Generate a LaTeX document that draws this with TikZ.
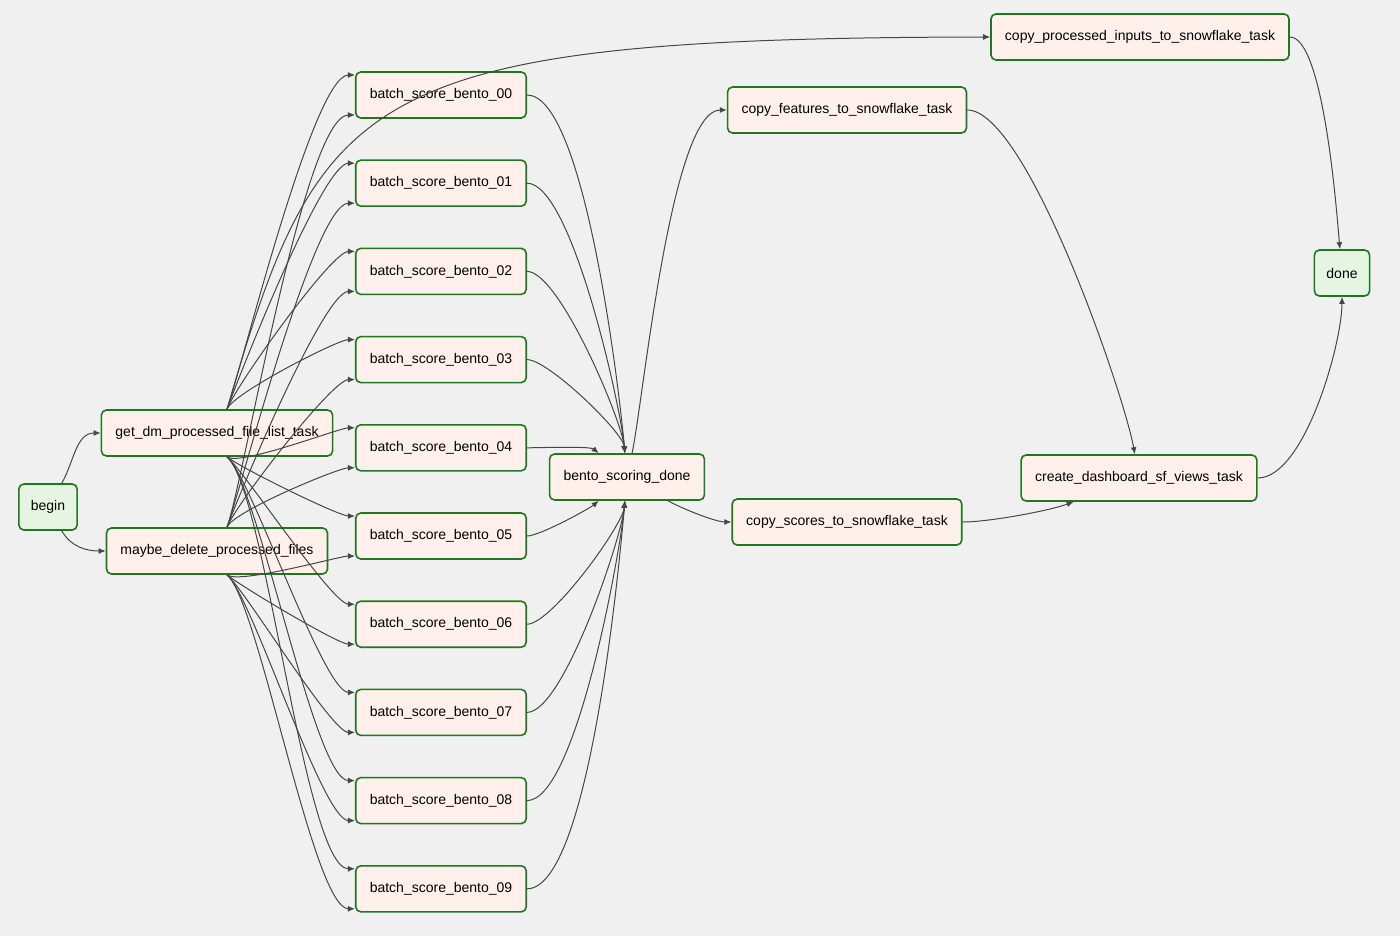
\documentclass[tikz,border=0pt]{standalone}
\usepackage{fontspec}
\setmainfont{Liberation Sans}
\usetikzlibrary{positioning,arrows.meta,calc}
\definecolor{dagBg}{RGB}{240,240,240}
\definecolor{dagLine}{RGB}{30,120,30}
\definecolor{taskFill}{RGB}{255,240,235}
\definecolor{endFill}{RGB}{230,245,225}
\definecolor{edgeGray}{RGB}{70,70,70}

\tikzset{
  task/.style={draw=dagLine, line width=1.6pt, fill=taskFill, rounded corners=5pt,
    minimum height=46pt, inner xsep=14pt, font=\fontsize{14}{16}\selectfont},
  terminal/.style={task, fill=endFill, inner xsep=12pt},
  edge/.style={draw=edgeGray, line width=1pt, -{Latex[length=7pt,width=6pt]}}
}

\begin{document}
\begin{tikzpicture}[x=1pt, y=-1pt]
  \fill[dagBg] (0,0) rectangle (1400,936);
  \useasboundingbox (0,0) rectangle (1400,936);

  % start and end
  \node[terminal] (begin) at (48,507) {begin};
  \node[terminal] (done) at (1342,273) {done};

  % setup tasks
  \node[task] (getdm) at (217,433) {get\_dm\_processed\_file\_list\_task};
  \node[task] (maybedel) at (217,551) {maybe\_delete\_processed\_files};

  % scoring tasks
  \foreach \k in {0,...,9} {
    \node[task] (b\k) at (441,{95+88.2*\k}) {batch\_score\_bento\_0\k};
  }

  \node[task] (scoringdone) at (627,477) {bento\_scoring\_done};
  \node[task] (copyfeat) at (847,110) {copy\_features\_to\_snowflake\_task};
  \node[task] (copyscores) at (847,522) {copy\_scores\_to\_snowflake\_task};
  \node[task] (copyinputs) at (1140,37) {copy\_processed\_inputs\_to\_snowflake\_task};
  \node[task] (dashboard) at (1139,478) {create\_dashboard\_sf\_views\_task};

  % edges
  \draw[edge] (begin) to[out=60, in=180] (getdm);
  \draw[edge] (begin) to[out=-60, in=180] (maybedel);

  \coordinate (gtop) at ($(getdm.north)+(10,0)$);
  \coordinate (gbot) at ($(getdm.south)+(10,0)$);
  \coordinate (mtop) at ($(maybedel.north)+(10,0)$);
  \coordinate (mbot) at ($(maybedel.south)+(10,0)$);
  \foreach \k in {0,...,9} {
    \ifnum\k<4
      \draw[edge] (gtop) to[out=70, in=180, looseness=0.3] ($(b\k.west)+(0,-20)$);
    \else
      \draw[edge] (gbot) to[out=-40, in=180, looseness=0.3] ($(b\k.west)+(0,-20)$);
    \fi
    \ifnum\k<5
      \draw[edge] (mtop) to[out=70, in=180, looseness=0.3] ($(b\k.west)+(0,20)$);
    \else
      \draw[edge] (mbot) to[out=-40, in=180, looseness=0.3] ($(b\k.west)+(0,20)$);
    \fi
    \pgfmathsetmacro{\ia}{\k<4 ? 95 : (\k<5 ? 140 : (\k<6 ? 220 : 265))}
    \draw[edge] (b\k) to[out=0, in=\ia, looseness=0.4] (scoringdone);
  }

  \draw[edge] (gtop) .. controls (320,90) and (360,38) .. (copyinputs.west);
  \draw[edge] (scoringdone) to[out=78, in=180, looseness=0.4] (copyfeat);
  \draw[edge] (scoringdone) to[out=-30, in=180, looseness=0.6] (copyscores);
  \draw[edge] (copyfeat) to[out=0, in=100, looseness=0.4] (dashboard);
  \draw[edge] (copyscores) to[out=0, in=200, looseness=0.6] (dashboard);
  \draw[edge] (copyinputs) to[out=0, in=95, looseness=0.4] (done);
  \draw[edge] (dashboard) to[out=0, in=-90, looseness=0.6] (done);
\end{tikzpicture}
\end{document}
